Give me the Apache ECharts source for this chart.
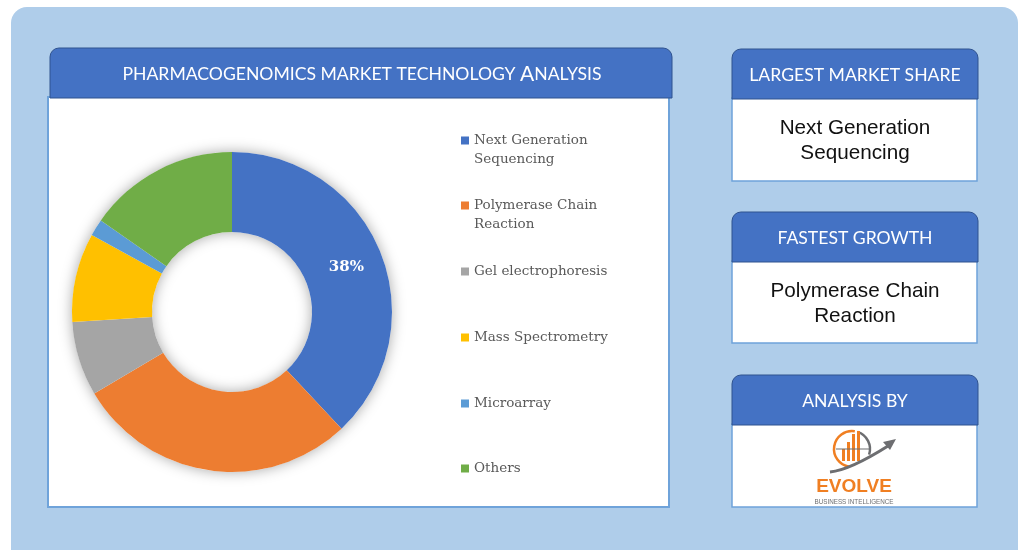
<!DOCTYPE html>
<html>
<head>
<meta charset="utf-8">
<script src="https://cdn.jsdelivr.net/npm/echarts@6/dist/echarts.min.js"></script>
<style>
html,body{margin:0;padding:0;background:#ffffff;}
#chart{width:1024px;height:550px;}
</style>
</head>
<body>
<div id="chart"></div>
<script>
// ---- data ----
const categories = ['Next Generation Sequencing', 'Polymerase Chain Reaction', 'Gel electrophoresis', 'Mass Spectrometry', 'Microarray', 'Others'];
const legendLabels = ['Next Generation\nSequencing', 'Polymerase Chain\nReaction', 'Gel electrophoresis', 'Mass Spectrometry', 'Microarray', 'Others'];
const shares = [38, 28.5, 7.5, 9, 1.7, 15.3];
const colors = ['#4472C4', '#ED7D31', '#A5A5A5', '#FFC000', '#5B9BD5', '#70AD47'];
const labelShown = [true, false, false, false, false, false];
const mainTitle = 'PHARMACOGENOMICS MARKET TECHNOLOGY ';
const sidePanels = [
  { header: 'LARGEST MARKET SHARE', body: 'Next Generation\nSequencing' },
  { header: 'FASTEST GROWTH', body: 'Polymerase Chain\nReaction' },
  { header: 'ANALYSIS BY', body: '' }
];

const chart = echarts.init(document.getElementById('chart'));

const HEADER_BLUE = '#4472C4';
const HEADER_STROKE = '#2F528F';
const BODY_STROKE = '#6FA3DA';
const BG = '#AFCDEA';

const graphics = [];
// outer background
graphics.push({ type: 'rect', shape: { x: 11, y: 7, width: 1007, height: 560, r: 16 }, style: { fill: BG }, z: 0 });
// main panel
graphics.push({ type: 'rect', shape: { x: 48, y: 97, width: 621, height: 410 }, style: { fill: '#fff', stroke: BODY_STROKE, lineWidth: 2 }, z: 1 });
graphics.push({ type: 'rect', shape: { x: 50, y: 48, width: 622, height: 50, r: [9, 9, 0, 0] }, style: { fill: HEADER_BLUE, stroke: HEADER_STROKE, lineWidth: 1 }, z: 2 });
graphics.push({ type: 'text', x: 362, y: 74, style: {
  text: mainTitle + '{big|A}NALYSIS', fill: '#fff', font: '17.6px Lato', align: 'center', verticalAlign: 'middle',
  rich: { big: { fontSize: 21, fontFamily: 'Lato', fill: '#fff' } }
}, z: 3 });

// side panels
const panelTops = [49, 212, 375];
const bodyHeights = [83, 82, 83];
sidePanels.forEach(function (p, i) {
  const y = panelTops[i];
  graphics.push({ type: 'rect', shape: { x: 732, y: y + 49, width: 245, height: bodyHeights[i] }, style: { fill: '#fff', stroke: BODY_STROKE, lineWidth: 1.5 }, z: 1 });
  graphics.push({ type: 'rect', shape: { x: 732, y: y, width: 246, height: 50, r: [9, 9, 0, 0] }, style: { fill: HEADER_BLUE, stroke: HEADER_STROKE, lineWidth: 1 }, z: 2 });
  graphics.push({ type: 'text', x: 855, y: y + 26, style: { text: p.header, fill: '#fff', font: '17.6px Lato', align: 'center', verticalAlign: 'middle' }, z: 3 });
  if (p.body) {
    graphics.push({ type: 'text', x: 855, y: y + 92, style: { text: p.body, fill: '#111', font: '20.7px "Liberation Sans"', align: 'center', verticalAlign: 'middle', lineHeight: 25 }, z: 3 });
  }
});

// logo (Evolve Business Intelligence)
graphics.push({ type: 'arc', shape: { cx: 852, cy: 449, r: 18, startAngle: Math.PI * 0.55, endAngle: Math.PI * 1.55 }, style: { stroke: '#F07F22', lineWidth: 2.5, fill: null }, z: 3 });
graphics.push({ type: 'arc', shape: { cx: 852, cy: 449, r: 18, startAngle: Math.PI * 1.6, endAngle: Math.PI * 2.1 }, style: { stroke: '#6D6E71', lineWidth: 2.5, fill: null }, z: 3 });
graphics.push({ type: 'rect', shape: { x: 842, y: 449, width: 3, height: 12 }, style: { fill: '#F07F22' }, z: 3 });
graphics.push({ type: 'rect', shape: { x: 847, y: 442, width: 3, height: 19 }, style: { fill: '#F07F22' }, z: 3 });
graphics.push({ type: 'rect', shape: { x: 852, y: 434, width: 3, height: 27 }, style: { fill: '#F07F22' }, z: 3 });
graphics.push({ type: 'rect', shape: { x: 857, y: 431, width: 3, height: 30 }, style: { fill: '#F07F22' }, z: 3 });
graphics.push({ type: 'line', shape: { x1: 836, y1: 449, x2: 869, y2: 449 }, style: { stroke: '#6D6E71', lineWidth: 1.2 }, z: 3 });
graphics.push({ type: 'bezierCurve', shape: { x1: 830, y1: 472, cpx1: 850, cpy1: 470, x2: 888, y2: 446 }, style: { stroke: '#6D6E71', lineWidth: 3, fill: null }, z: 4 });
graphics.push({ type: 'polygon', shape: { points: [[896, 439], [883, 442], [890, 450]] }, style: { fill: '#6D6E71' }, z: 4 });
graphics.push({ type: 'text', x: 854, y: 487, style: { text: 'EVOLVE', fill: '#F07F22', font: 'bold 19px "Liberation Sans"', align: 'center', verticalAlign: 'middle' }, z: 3 });
graphics.push({ type: 'text', x: 854, y: 502, style: { text: 'BUSINESS INTELLIGENCE', fill: '#6D6E71', font: '6.3px "Liberation Sans"', align: 'center', verticalAlign: 'middle' }, z: 3 });

// legends: one per item so rows align with the reference spacing
const legendTops = [131, 196, 262, 328, 394, 459];
const TOP_ICON = 'path://M0,0L8,0L8,8L0,8Z M0,27L0.001,27L0,27.001Z';
const legends = categories.map(function (name, i) {
  const twoLine = legendLabels[i].indexOf('\n') >= 0;
  return {
    data: [name],
    left: 461,
    top: legendTops[i],
    orient: 'vertical',
    icon: twoLine ? TOP_ICON : 'rect',
    itemWidth: 8,
    itemHeight: twoLine ? 27 : 8,
    itemGap: 4,
    padding: 0,
    selectedMode: false,
    formatter: function () { return legendLabels[i]; },
    textStyle: {
      fontFamily: 'DejaVu Serif',
      fontSize: 13.5,
      color: '#595959',
      lineHeight: 19
    }
  };
});

chart.setOption({
  animation: false,
  color: colors,
  graphic: graphics,
  legend: legends,
  series: [
    {
      type: 'pie',
      silent: true,
      center: [232, 312],
      radius: [80, 160],
      z: 1,
      label: { show: false },
      labelLine: { show: false },
      itemStyle: { color: '#ffffff', shadowBlur: 14, shadowColor: 'rgba(0,0,0,0.35)' },
      data: [{ value: 1, name: '__bg' }]
    },
    {
      type: 'pie',
      center: [232, 312],
      radius: [80, 160],
      startAngle: 90,
      clockwise: true,
      z: 2,
      labelLine: { show: false },
      data: categories.map(function (name, i) {
        return {
          name: name,
          value: shares[i],
          itemStyle: { color: colors[i] },
          label: {
            show: labelShown[i],
            position: 'inside',
            formatter: function (p) { return Math.round(p.percent) + '%'; },
            color: '#ffffff',
            fontFamily: 'DejaVu Serif',
            fontWeight: 'bold',
            fontSize: 15
          }
        };
      })
    }
  ]
});
</script>
</body>
</html>
